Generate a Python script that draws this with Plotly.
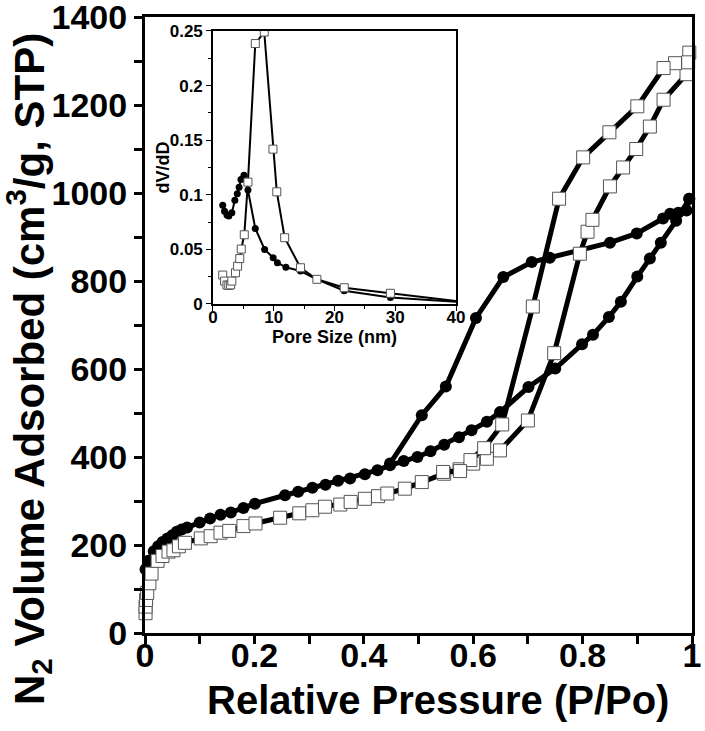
import plotly.graph_objects as go

# ---- Main isotherm data: filled circles sample ----
circ_ads_x = [0.001, 0.006, 0.016, 0.024, 0.032, 0.041, 0.050, 0.058, 0.067, 0.077, 0.100, 0.119,
              0.138, 0.157, 0.180, 0.201, 0.256, 0.280, 0.306, 0.330, 0.353, 0.375, 0.402, 0.425,
              0.448, 0.473, 0.498, 0.522, 0.547, 0.574, 0.597, 0.625, 0.649, 0.701, 0.750, 0.799,
              0.819, 0.848, 0.870, 0.900, 0.923, 0.943, 0.971, 0.995]
circ_ads_y = [145, 164, 186, 197, 207, 215, 222, 230, 235, 240, 251, 260,
              269, 274, 284, 294, 313, 321, 330, 337, 346, 351, 361, 370,
              381, 391, 400, 413, 428, 445, 461, 480, 502, 559, 601, 656,
              678, 718, 753, 810, 851, 887, 937, 987]
circ_des_x = [0.995, 0.990, 0.975, 0.960, 0.947, 0.899, 0.850, 0.740, 0.707, 0.655, 0.605, 0.550, 0.506, 0.448]
circ_des_y = [987, 960, 955, 953, 942, 908, 887, 853, 843, 809, 716, 560, 495, 385]

# ---- Main isotherm data: open squares sample ----
sq_ads_x = [0.001, 0.001, 0.002, 0.004, 0.008, 0.012, 0.023, 0.032, 0.043, 0.052, 0.062, 0.073,
            0.102, 0.120, 0.138, 0.154, 0.180, 0.202, 0.247, 0.282, 0.306, 0.329, 0.357, 0.376,
            0.402, 0.426, 0.443, 0.475, 0.506, 0.547, 0.575, 0.600, 0.625, 0.649, 0.700, 0.748,
            0.795, 0.809, 0.818, 0.850, 0.874, 0.898, 0.923, 0.948, 0.990]
sq_ads_y = [45, 60, 75, 91, 113, 135, 164, 175, 185, 188, 197, 205,
            215, 220, 228, 232, 243, 249, 262, 272, 279, 287, 292, 298,
            305, 311, 317, 328, 343, 362, 372, 385, 396, 415, 483, 636,
            862, 912, 939, 1015, 1058, 1100, 1151, 1212, 1270]
sq_des_x = [0.995, 0.993, 0.969, 0.948, 0.900, 0.849, 0.801, 0.757, 0.709, 0.653, 0.620, 0.595, 0.576, 0.545]
sq_des_y = [1319, 1297, 1295, 1284, 1197, 1138, 1081, 987, 742, 474, 420, 393, 368, 366]

# ---- Inset: pore size distribution ----
psd_circ_x = [1.6, 1.9, 2.3, 2.6, 3.1, 3.6, 4.0, 4.3, 4.6, 5.1, 5.75, 6.96, 8.5, 9.9, 10.6, 12.0,
              14.4, 17.1, 21.6, 29.2, 44.0]
psd_circ_y = [0.0905, 0.085, 0.0814, 0.0805, 0.0835, 0.095, 0.101, 0.1068, 0.114, 0.118, 0.1043,
              0.0692, 0.050, 0.0424, 0.0378, 0.0336, 0.0302, 0.0226, 0.0122, 0.006, 0.0005]
psd_sq_x = [1.6, 1.9, 2.3, 2.6, 2.9, 3.1, 3.7, 4.05, 4.4, 4.65, 5.15, 5.75, 6.96, 8.44, 9.87, 10.5,
            11.8, 14.4, 17.1, 21.6, 29.2, 44.0]
psd_sq_y = [0.0265, 0.021, 0.0174, 0.017, 0.0175, 0.0210, 0.0286, 0.0347, 0.0416, 0.0503, 0.0634,
            0.1116, 0.2385, 0.249, 0.1418, 0.1027, 0.0607, 0.0332, 0.0226, 0.0149, 0.0098, 0.0002]

FONT = "Liberation Sans"
LW = 5

fig = go.Figure()

for xs, ys in [(circ_ads_x, circ_ads_y), (circ_des_x, circ_des_y)]:
    fig.add_trace(go.Scatter(x=xs, y=ys, mode="lines+markers", cliponaxis=False,
                             line=dict(color="black", width=LW),
                             marker=dict(symbol="circle", size=12, color="black"),
                             showlegend=False, xaxis="x", yaxis="y"))
for xs, ys in [(sq_ads_x, sq_ads_y), (sq_des_x, sq_des_y)]:
    fig.add_trace(go.Scatter(x=xs, y=ys, mode="lines+markers", cliponaxis=False,
                             line=dict(color="black", width=LW),
                             marker=dict(symbol="square", size=13, color="white",
                                         line=dict(color="#555555", width=1)),
                             showlegend=False, xaxis="x", yaxis="y"))

fig.add_trace(go.Scatter(x=psd_circ_x, y=psd_circ_y, mode="lines+markers",
                         line=dict(color="black", width=2),
                         marker=dict(symbol="circle", size=7, color="black"),
                         showlegend=False, xaxis="x2", yaxis="y2"))
fig.add_trace(go.Scatter(x=psd_sq_x, y=psd_sq_y, mode="lines+markers",
                         line=dict(color="black", width=2),
                         marker=dict(symbol="square", size=8, color="white",
                                     line=dict(color="#555555", width=1)),
                         showlegend=False, xaxis="x2", yaxis="y2"))

tickfont_main = dict(family=FONT, size=34, color="black", weight="bold")
tickfont_in = dict(family=FONT, size=17, color="black", weight="bold")
titlefont_in = dict(family=FONT, size=18, color="black", weight="bold")

fig.update_layout(
    width=705, height=731,
    margin=dict(l=145, r=13, t=17, b=98, autoexpand=False),
    paper_bgcolor="white", plot_bgcolor="white",
    xaxis=dict(domain=[0, 1], range=[0, 1], tickvals=[0, 0.2, 0.4, 0.6, 0.8, 1],
               ticktext=["0", "0.2", "0.4", "0.6", "0.8", "1"], automargin=False,
               ticklabeloverflow="allow", ticklabelstandoff=-18,
               showline=True, linewidth=3, linecolor="black", mirror=True,
               ticks="outside", ticklen=8, tickwidth=2.5, tickcolor="black",
               minor=dict(ticks="outside", dtick=0.1, ticklen=8, tickwidth=2.5, tickcolor="black"),
               showgrid=False, zeroline=False, tickfont=tickfont_main),
    yaxis=dict(domain=[0, 1], range=[0, 1400], tickvals=[0, 200, 400, 600, 800, 1000, 1200, 1400],
               ticktext=["0", "200", "400", "600", "800", "1000", "1200", "1400"], automargin=False,
               ticklabeloverflow="allow",
               showline=True, linewidth=3, linecolor="black", mirror=True,
               ticks="outside", ticklen=8, tickwidth=2.5, tickcolor="black",
               minor=dict(ticks="outside", dtick=100, ticklen=8, tickwidth=2.5, tickcolor="black"),
               showgrid=False, zeroline=False, tickfont=tickfont_main),
    xaxis2=dict(domain=[0.1243, 0.5686], anchor="y2", range=[0, 40], automargin=False,
                tickvals=[0, 10, 20, 30, 40], ticklabeloverflow="allow", ticklabelstandoff=-8,
                showline=True, linewidth=1.5, linecolor="black", mirror=True,
                ticks="outside", ticklen=5, tickwidth=1.2, tickcolor="black",
                minor=dict(ticks="outside", dtick=5, ticklen=3, tickwidth=1.2, tickcolor="black"),
                showgrid=False, zeroline=False, tickfont=tickfont_in,
                title=dict(text="Pore Size (nm)", font=titlefont_in, standoff=0)),
    yaxis2=dict(domain=[0.5341, 0.9773], anchor="x2", range=[0, 0.25], automargin=False,
                tickvals=[0, 0.05, 0.1, 0.15, 0.2, 0.25], ticklabeloverflow="allow",
                ticktext=["0", "0.05", "0.1", "0.15", "0.2", "0.25"],
                showline=True, linewidth=1.5, linecolor="black", mirror=True,
                ticks="outside", ticklen=5, tickwidth=1.2, tickcolor="black",
                minor=dict(ticks="outside", dtick=0.025, ticklen=3, tickwidth=1.2, tickcolor="black"),
                showgrid=False, zeroline=False, tickfont=tickfont_in),
    annotations=[
        dict(text="Relative Pressure (P/Po)", xref="paper", yref="paper", x=0.5356, y=0,
             xanchor="center", yanchor="middle", yshift=-67, showarrow=False,
             font=dict(family=FONT, size=40, color="black", weight="bold")),
        dict(text="N<sub>2</sub> Volume Adsorbed (cm<sup>3</sup>/g, STP)", xref="paper", yref="paper",
             x=0, y=0.4286, xanchor="center", yanchor="middle", xshift=-116, textangle=-90,
             showarrow=False, font=dict(family=FONT, size=42, color="black", weight="bold")),
        dict(text="dV/dD", xref="x2 domain", yref="y2 domain", x=0, y=0.5,
             xanchor="center", yanchor="middle", xshift=-50, textangle=-90,
             showarrow=False, font=titlefont_in),
    ],
)

fig.write_html("out.html", config={"displayModeBar": False},
               post_script="document.body.style.margin='0px';")
